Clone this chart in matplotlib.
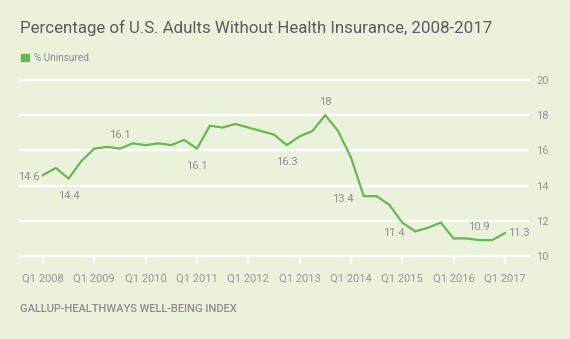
import matplotlib
matplotlib.use("Agg")
import matplotlib.pyplot as plt
from matplotlib.patches import Patch

# quarterly % uninsured, Q1 2008 .. Q1 2017
years = list(range(2008, 2018))
uninsured = [
    14.6, 15.0, 14.4, 15.4,   # 2008
    16.1, 16.2, 16.1, 16.4,   # 2009
    16.3, 16.4, 16.3, 16.6,   # 2010
    16.1, 17.4, 17.3, 17.5,   # 2011
    17.3, 17.1, 16.9, 16.3,   # 2012
    16.8, 17.1, 18.0, 17.1,   # 2013
    15.6, 13.4, 13.4, 12.9,   # 2014
    11.9, 11.4, 11.6, 11.9,   # 2015
    11.0, 11.0, 10.9, 10.9,   # 2016
    11.3,                     # 2017
]
year_labels = [f"Q1 {y}" for y in years]
y_ticks = [10, 12, 14, 16, 18, 20]

# which points get a value label: index -> (ha, dx px, dy px)
labelled = {
    0: ("right", -3, -2),
    2: ("center", 0, -17),
    6: ("center", 0, 14),
    12: ("center", 0, -17),
    19: ("center", 0, -17),
    22: ("center", 0, 13),
    25: ("right", -10, -3),
    29: ("right", -10, -2),
    34: ("center", 0, 13),
    36: ("left", 3, 0),
}

BG = "#ebf2dc"
GREEN = "#67b84e"
GREY = "#959595"

plt.rcParams["font.family"] = ["Roboto", "DejaVu Sans"]

fig = plt.figure(figsize=(5.7, 3.39), dpi=100, facecolor=BG)
W, H = 570, 339
ax = fig.add_axes([20 / W, 1 - 256 / H, (528 - 20) / W, (256 - 80) / H])
ax.set_facecolor(BG)

xs = list(range(len(uninsured)))
ax.plot(xs, uninsured, color=GREEN, lw=1.6, solid_joinstyle="miter", zorder=3)

for y in y_ticks:
    ax.axhline(y, color="white", lw=1.6, zorder=1, clip_on=False)

ax.set_ylim(10, 20)
ax.set_xlim(-1.79, 37.8)
for s in ax.spines.values():
    s.set_visible(False)

ax.set_xticks(xs[::4])
ax.set_xticklabels(year_labels)
ax.tick_params(axis="x", colors="white", length=6, width=1.6, pad=6.5,
               labelcolor=GREY, labelsize=8)
ax.yaxis.tick_right()
ax.set_yticks(y_ticks)
ax.tick_params(axis="y", length=0, pad=6, labelcolor=GREY, labelsize=8)

for i, (ha, dx, dy) in labelled.items():
    v = uninsured[i]
    txt = f"{v:g}"
    ax.annotate(txt, (i, v), xytext=(dx, dy), textcoords="offset pixels",
                ha=ha, va="center", color="#8e8e8e", fontsize=8)

fig.text(20 / W, 1 - 28 / H, "Percentage of U.S. Adults Without Health Insurance, 2008-2017",
         ha="left", va="center", fontsize=12.2, color="#5b5b5b")

ax.legend(handles=[Patch(color=GREEN, label="% Uninsured")], loc="center left",
          bbox_to_anchor=(16 / W, 1 - 58 / H), bbox_transform=fig.transFigure,
          frameon=False, fontsize=7.2, labelcolor="#8a8a8a",
          handlelength=0.75, handleheight=0.75, handletextpad=0.5, borderpad=0)

fig.text(20 / W, 1 - 309 / H, "GALLUP-HEALTHWAYS WELL-BEING INDEX",
         ha="left", va="center", fontsize=8, color="#8c8c8c", fontweight="medium")

fig.savefig("out.png", dpi=100, facecolor=BG)
